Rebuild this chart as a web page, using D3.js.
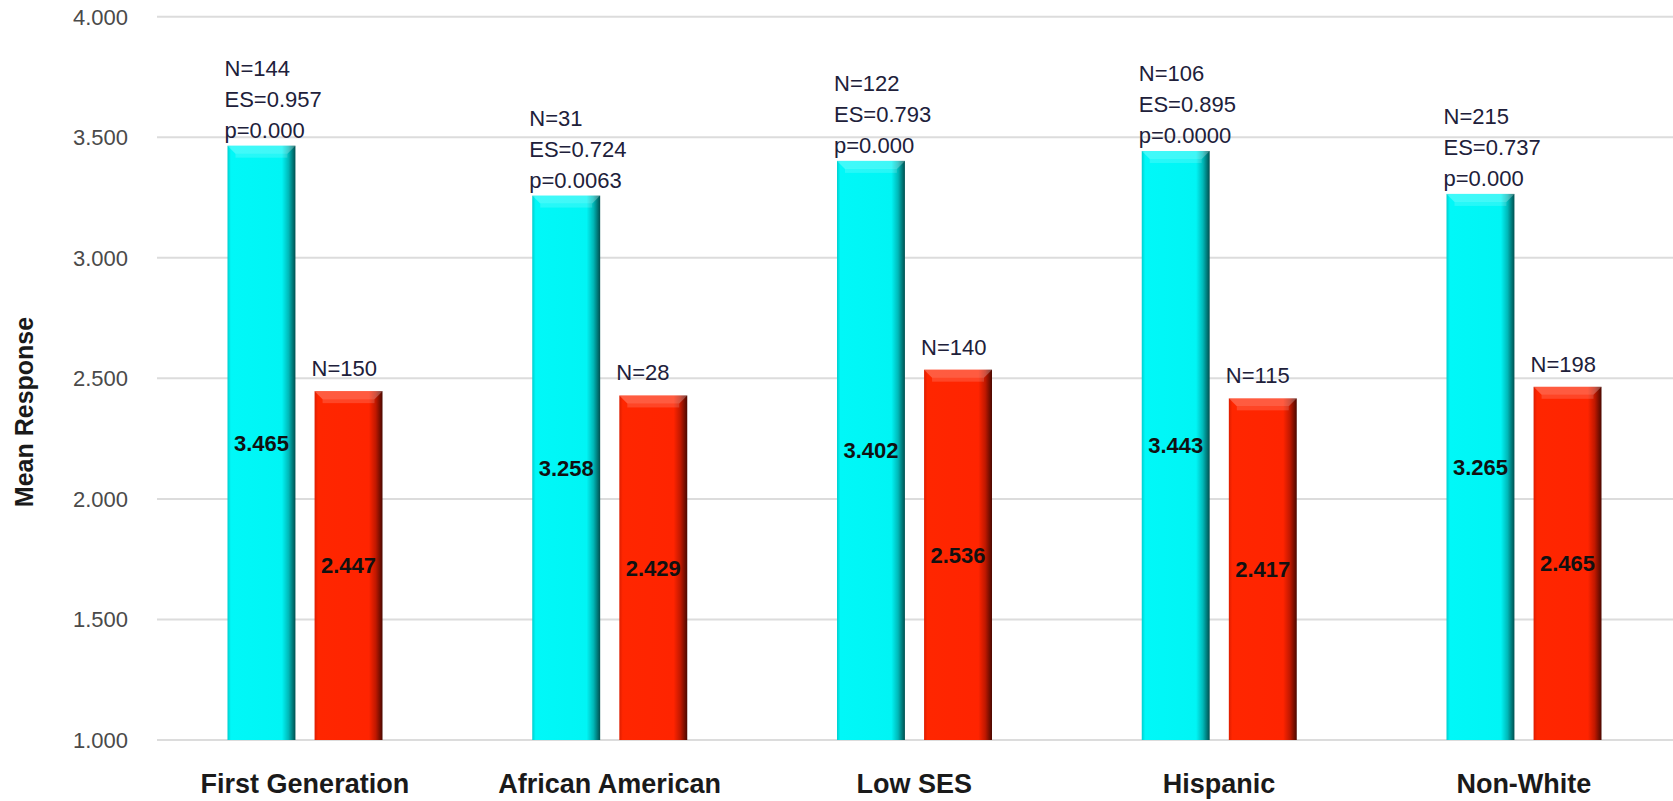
<!DOCTYPE html>
<head>
  <title>Mean Response by Group</title>
  <style>
    body { margin: 0; background: #fff; }
    svg text { font-family: "Liberation Sans", Arial, sans-serif; }
    .grid line { stroke: #dcdcdc; stroke-width: 2; }
    .tick-label { fill: #4a4a4a; font-size: 22px; }
    .note { fill: #20203a; font-size: 22px; }
    .val { fill: #111; font-size: 22px; font-weight: bold; }
    .cat { fill: #1a1a1a; font-size: 27px; font-weight: bold; }
  </style>
</head>
<body>
<script src="https://cdn.jsdelivr.net/npm/d3@7"></script>
<script>
  // data
  var categories = ["First Generation", "African American", "Low SES", "Hispanic", "Non-White"];
  var series = ["a", "b"];
  var meanA = [3.465, 3.258, 3.402, 3.443, 3.265];   // cyan bars
  var meanB = [2.447, 2.429, 2.536, 2.417, 2.465];   // red bars
  var nA = [144, 31, 122, 106, 215];
  var esA = ["0.957", "0.724", "0.793", "0.895", "0.737"];
  var pA = ["0.000", "0.0063", "0.000", "0.0000", "0.000"];
  var nB = [150, 28, 140, 115, 198];
  var yTicks = [1, 1.5, 2, 2.5, 3, 3.5, 4];

  var svg_width = 1673, svg_height = 801;
  var grid_left = 157;

  var svg = d3.select("body").append("svg")
    .attr("width", svg_width)
    .attr("height", svg_height);

  var x0 = d3.scaleBand().domain(categories).range([152.5, 1676.25]);
  var x1 = d3.scaleBand().domain(series).range([75, 230]).paddingInner(0.22);
  var y = d3.scaleLinear().domain([1, 4]).range([740, 16.7]);

  // gradients for the bevelled bars
  var defs = svg.append("defs");
  function makeGrad(id, stops) {
    var g = defs.append("linearGradient").attr("id", id)
      .attr("x1", "0%").attr("x2", "100%").attr("y1", "0%").attr("y2", "0%");
    stops.forEach(function (s) {
      g.append("stop").attr("offset", s[0]).attr("stop-color", s[1]);
    });
  }
  makeGrad("gradA", [["0%", "#00cfcf"], ["5%", "#00f8f8"], ["80%", "#00f5f5"], ["90%", "#00b8b8"], ["100%", "#004f4f"]]);
  makeGrad("gradB", [["0%", "#dd1d00"], ["5%", "#ff2600"], ["80%", "#ff2400"], ["90%", "#c01800"], ["100%", "#4a0800"]]);

  // gridlines + y tick labels
  var grid = svg.append("g").attr("class", "grid");
  grid.selectAll("line").data(yTicks).enter().append("line")
    .attr("x1", grid_left).attr("x2", svg_width)
    .attr("y1", function (d) { return y(d); })
    .attr("y2", function (d) { return y(d); });

  svg.append("g").selectAll("text").data(yTicks).enter().append("text")
    .attr("class", "tick-label")
    .attr("x", 128)
    .attr("y", function (d) { return y(d); })
    .attr("dy", "0.36em")
    .attr("text-anchor", "end")
    .text(d3.format(".3f"));

  // y axis title
  svg.append("text")
    .attr("transform", "translate(33,412) rotate(-90)")
    .attr("text-anchor", "middle")
    .attr("font-size", 25)
    .attr("font-weight", "bold")
    .attr("fill", "#1a1a1a")
    .text("Mean Response");

  var rows = categories.map(function (c, i) {
    return { cat: c, a: meanA[i], b: meanB[i], nA: nA[i], es: esA[i], p: pA[i], nB: nB[i] };
  });

  var groups = svg.selectAll("g.group").data(rows).enter().append("g")
    .attr("class", "group")
    .attr("transform", function (d) { return "translate(" + x0(d.cat) + ",0)"; });

  function drawBar(key, grad) {
    var bw = x1.bandwidth();
    groups.append("rect")
      .attr("x", x1(key))
      .attr("y", function (d) { return y(d[key]); })
      .attr("width", bw)
      .attr("height", function (d) { return y(1) - y(d[key]); })
      .attr("fill", "url(#" + grad + ")");
    // top bevel highlight
    groups.append("path")
      .attr("d", function (d) {
        var t = y(d[key]), l = x1(key);
        return "M" + l + "," + t + "h" + bw + "l-8,8h" + (-(bw - 16)) + "z";
      })
      .attr("fill", "#fff").attr("opacity", 0.25);
    groups.append("rect")
      .attr("x", x1(key) + 8)
      .attr("y", function (d) { return y(d[key]) + 8; })
      .attr("width", bw - 16).attr("height", 4)
      .attr("fill", "#fff").attr("opacity", 0.15);
    // value label in the middle of the bar
    groups.append("text")
      .attr("class", "val")
      .attr("x", x1(key) + bw / 2)
      .attr("y", function (d) { return (y(d[key]) + y(1)) / 2; })
      .attr("dy", "0.36em")
      .attr("text-anchor", "middle")
      .text(function (d) { return d[key].toFixed(3); });
  }
  drawBar("a", "gradA");
  drawBar("b", "gradB");

  // annotations above cyan bars
  var lineH = 31;
  groups.each(function (d) {
    var g = d3.select(this);
    var top = y(d.a) - 8;
    var lines = ["N=" + d.nA, "ES=" + d.es, "p=" + d.p];
    lines.forEach(function (t, k) {
      g.append("text").attr("class", "note")
        .attr("x", x1("a") - 3)
        .attr("y", top - (lines.length - 1 - k) * lineH)
        .text(t);
    });
    g.append("text").attr("class", "note")
      .attr("x", x1("b") - 3)
      .attr("y", y(d.b) - 15)
      .text("N=" + d.nB);
  });

  // category labels
  groups.append("text")
    .attr("class", "cat")
    .attr("x", x0.bandwidth() / 2)
    .attr("y", 793)
    .attr("text-anchor", "middle")
    .text(function (d) { return d.cat; });
</script>
</body>
